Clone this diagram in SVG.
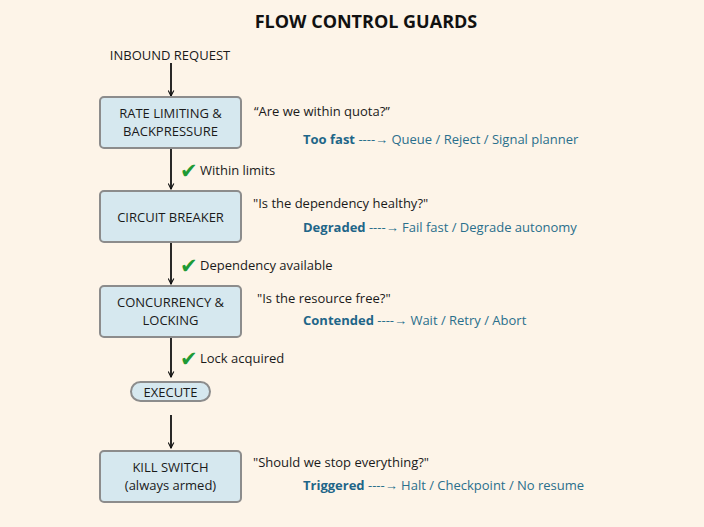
<svg xmlns="http://www.w3.org/2000/svg" width="704" height="527" viewBox="0 0 704 527">
<defs>
<marker id="ah" viewBox="0 0 10 10" refX="9" refY="5" markerWidth="7" markerHeight="7" markerUnits="userSpaceOnUse" orient="auto">
<path d="M1,1 L9,5 L1,9" fill="none" stroke="#111" stroke-width="1.6"/>
</marker>
<style>
.bg{fill:#fdf4e8}
.box{fill:#d6e8ef;stroke:#8c8c8c;stroke-width:2}
.t{font-family:"Open Sans","Noto Sans",sans-serif;font-size:13px;fill:#1a1a1a}
.c{text-anchor:middle}
.q{font-family:"Open Sans","Noto Sans",sans-serif;font-size:13px;fill:#1a1a1a}
.o{font-family:"Open Sans","Noto Sans",sans-serif;font-size:13px;fill:#2a6f8c}
.ob{font-weight:bold;fill:#1f6688}
.chk{font-family:"DejaVu Sans",sans-serif;font-size:21px;fill:#1f9a35}
.title{font-family:"Open Sans","Noto Sans",sans-serif;font-size:18px;font-weight:bold;fill:#111;text-anchor:middle}
.ln{stroke:#111;stroke-width:1.8;fill:none;marker-end:url(#ah)}
</style>
</defs>
<rect class="bg" x="0" y="0" width="704" height="527"/>
<text class="title" x="366" y="28">FLOW CONTROL GUARDS</text>
<g id="inbound"><text class="t c" x="170" y="60">INBOUND REQUEST</text></g>
<g id="connectors">
<line class="ln" x1="171" y1="63" x2="171" y2="96"/>
<line class="ln" x1="171" y1="149" x2="171" y2="189"/>
<line class="ln" x1="171" y1="243" x2="171" y2="284"/>
<line class="ln" x1="171" y1="338" x2="171" y2="377"/>
<line class="ln" x1="171" y1="415" x2="171" y2="448"/>
<text class="chk" x="180" y="178">✔</text>
<text class="t" x="200" y="175">Within limits</text>
<text class="chk" x="180" y="273">✔</text>
<text class="t" x="200" y="270">Dependency available</text>
<text class="chk" x="180" y="366">✔</text>
<text class="t" x="200" y="363">Lock acquired</text>
</g>
<g id="rate">
<rect class="box" x="100" y="97" width="141" height="51" rx="4"/>
<text class="t c" x="170.5" y="118">RATE LIMITING &amp;</text>
<text class="t c" x="170.5" y="136">BACKPRESSURE</text>
<text class="q" x="254" y="116">“Are we within quota?”</text>
<text class="o" x="303" y="144"><tspan class="ob">Too fast</tspan> ----→ Queue / Reject / Signal planner</text>
</g>
<g id="circuit">
<rect class="box" x="100" y="191" width="141" height="51" rx="4"/>
<text class="t c" x="170.5" y="222">CIRCUIT BREAKER</text>
<text class="q" x="253" y="208">"Is the dependency healthy?"</text>
<text class="o" x="303" y="232"><tspan class="ob">Degraded</tspan> ----→ Fail fast / Degrade autonomy</text>
</g>
<g id="concurrency">
<rect class="box" x="100" y="286" width="141" height="51" rx="4"/>
<text class="t c" x="170.5" y="307">CONCURRENCY &amp;</text>
<text class="t c" x="170.5" y="325">LOCKING</text>
<text class="q" x="257" y="303">"Is the resource free?"</text>
<text class="o" x="303" y="325"><tspan class="ob">Contended</tspan> ----→ Wait / Retry / Abort</text>
</g>
<g id="execute">
<rect class="box" x="131" y="382" width="79" height="19" rx="9.5"/>
<text class="t c" x="170.5" y="397">EXECUTE</text>
</g>
<g id="kill">
<rect class="box" x="100" y="451" width="141" height="51" rx="4"/>
<text class="t c" x="170.5" y="472">KILL SWITCH</text>
<text class="t c" x="170.5" y="490">(always armed)</text>
<text class="q" x="253" y="467">"Should we stop everything?"</text>
<text class="o" x="303" y="490"><tspan class="ob">Triggered</tspan> ----→ Halt / Checkpoint / No resume</text>
</g>
</svg>
